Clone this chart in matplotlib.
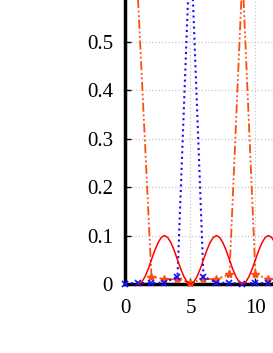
import matplotlib
matplotlib.use('Agg')
import matplotlib.pyplot as plt

# Data (the chart is cropped at top and right)
red_x = [1, 1.25, 1.5, 1.75, 2, 2.25, 2.5, 2.75, 3, 3.25, 3.5, 3.75, 4, 4.25, 4.5, 4.75,
         5, 5.25, 5.5, 5.75, 6, 6.25, 6.5, 6.75, 7, 7.25, 7.5, 7.75, 8, 8.25, 8.5, 8.75,
         9, 9.25, 9.5, 9.75, 10, 10.25, 10.5, 10.75, 11, 11.25, 11.5, 11.75, 12]
red_y = [0, 0.004, 0.015, 0.031, 0.05, 0.069, 0.085, 0.096, 0.1, 0.096, 0.085, 0.069, 0.05, 0.031, 0.015, 0.004,
         0, 0.004, 0.015, 0.031, 0.05, 0.069, 0.085, 0.096, 0.1, 0.096, 0.085, 0.069, 0.05, 0.031, 0.015, 0.004,
         0, 0.004, 0.015, 0.031, 0.05, 0.069, 0.085, 0.096, 0.1, 0.096, 0.085, 0.069, 0.05]

blue_x = [0, 1, 2, 3, 4, 5, 6, 7, 8, 9, 10, 11, 12]
blue_y = [0.001, 0.002, 0.002, 0.003, 0.015, 0.72, 0.015, 0.003, 0.002, 0.001, 0.002, 0.002, 0.002]

orange_x = [0, 2, 3, 4, 5, 6, 7, 8, 9, 10, 11, 12]
orange_y = [1.12, 0.015, 0.01, 0.01, 0.003, 0.01, 0.01, 0.02, 0.64, 0.02, 0.01, 0.01]

y_ticks = [0, 0.1, 0.2, 0.3, 0.4, 0.5]
y_tick_labels = ['0', '0.1', '0.2', '0.3', '0.4', '0.5']
x_ticks = [0, 5, 10, 15]
x_tick_labels = ['0', '5', '10', '15']

plt.rcParams['font.family'] = ['Liberation Serif', 'DejaVu Serif']
plt.rcParams['font.size'] = 15

fig = plt.figure(figsize=(2.73, 3.53), dpi=100)
# axes runs past the top and right edge of the figure, like the cropped original
ax = fig.add_axes([0.4597, 0.1955, 0.952, 1.373])

ax.plot(orange_x, orange_y, color='#ff4a10', linewidth=1.3,
        dashes=(5, 1.5, 1, 1.5, 1, 1.5), marker='*', markersize=6,
        clip_on=False, zorder=3)
ax.plot(blue_x, blue_y, color='#1010ff', linewidth=1.5, linestyle=':',
        marker='x', markersize=4, markeredgewidth=1.2, clip_on=False, zorder=4)
ax.plot(red_x, red_y, color='#ff0000', linewidth=1.1, clip_on=False, zorder=5)

ax.set_xlim(0, 20)
ax.set_ylim(0, 1.0)
ax.set_xticks(x_ticks)
ax.set_xticklabels(x_tick_labels)
ax.set_yticks(y_ticks)
ax.set_yticklabels(y_tick_labels)

ax.grid(True, color='#c8c8c8', linestyle=':', linewidth=0.9)
ax.set_axisbelow(True)
for side in ['top', 'right']:
    ax.spines[side].set_visible(False)
for side in ['left', 'bottom']:
    ax.spines[side].set_linewidth(2.5)
    ax.spines[side].set_zorder(2)
ax.tick_params(direction='in', length=4, width=1, pad=9)
ax.tick_params(axis='x', pad=11)

fig.savefig('out.png', dpi=100)
